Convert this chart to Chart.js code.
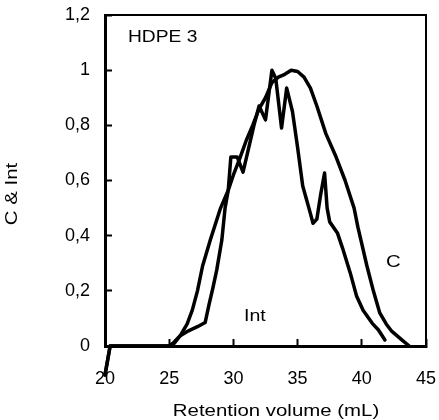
<!DOCTYPE html>
<html>
<head>
<meta charset="utf-8">
<script src="https://cdn.jsdelivr.net/npm/chart.js@4.4.1/dist/chart.umd.min.js"></script>
<style>
  html, body { margin: 0; padding: 0; background: #fff; }
</style>
</head>
<body>
<canvas id="chart" width="439" height="420"></canvas>
<script>
// DATA
const cX = [20, 20.4, 25, 25.4, 25.9, 26.4, 26.8, 27.2, 27.6, 28.2, 29.0, 29.6, 30.0, 30.5, 31.0, 31.5, 32.0, 32.5, 33.0, 33.5, 34.0, 34.5, 35.0, 35.5, 36.0, 36.5, 37.2, 38.0, 38.7, 39.4, 39.7, 40.0, 40.4, 40.9, 41.4, 41.9, 42.3, 42.8, 43.3, 43.7];
const cY = [-0.105, 0, 0, 0.01, 0.04, 0.08, 0.13, 0.2, 0.29, 0.384, 0.5, 0.565, 0.62, 0.68, 0.745, 0.8, 0.86, 0.9, 0.955, 0.975, 0.985, 1.0, 0.995, 0.975, 0.935, 0.87, 0.77, 0.685, 0.6, 0.5, 0.43, 0.37, 0.29, 0.2, 0.12, 0.08, 0.055, 0.035, 0.015, 0];

const intX = [20, 20.4, 25, 25.3, 25.8, 26.5, 27.2, 27.8, 28.1, 28.4, 28.7, 29.1, 29.35, 29.6, 29.8, 30.3, 30.75, 31.1, 31.6, 32.0, 32.3, 32.5, 33.0, 33.3, 33.75, 34.15, 34.6, 35.0, 35.4, 35.7, 36.0, 36.2, 36.5, 36.8, 37.1, 37.3, 37.5, 38.1, 38.5, 39.1, 39.6, 40.1, 40.8, 41.3, 41.8];
const intY = [-0.105, 0, 0, 0.01, 0.035, 0.055, 0.07, 0.085, 0.15, 0.21, 0.275, 0.384, 0.5, 0.565, 0.685, 0.685, 0.63, 0.7, 0.8, 0.87, 0.84, 0.82, 1.0, 0.97, 0.79, 0.935, 0.85, 0.72, 0.58, 0.53, 0.48, 0.445, 0.46, 0.55, 0.627, 0.5, 0.45, 0.41, 0.355, 0.265, 0.18, 0.13, 0.083, 0.058, 0.022];

const xTickLabels = ['20', '25', '30', '35', '40', '45'];
const yTickLabels = ['0', '0,2', '0,4', '0,6', '0,8', '1', '1,2'];

const FONT = "'Liberation Sans', Arial, sans-serif";

function toPoints(xs, ys) {
    return xs.map((x, i) => ({ x: x, y: ys[i] }));
}

// testo allargato in orizzontale
function drawText(ctx, text, x, y, size, sx, align, rot) {
    ctx.save();
    ctx.translate(x, y);
    if (rot) ctx.rotate(rot);
    ctx.scale(sx, 1);
    ctx.font = size + 'px ' + FONT;
    ctx.fillStyle = '#000';
    ctx.textAlign = align;
    ctx.textBaseline = 'alphabetic';
    ctx.fillText(text, 0, 0);
    ctx.restore();
}

// ETICHETTE
const extras = {
    id: 'extras',
    afterDraw(chart) {
        const ctx = chart.ctx;
        drawText(ctx, 'HDPE 3', 128, 42, 16, 1.2, 'left');
        drawText(ctx, 'C', 386, 267, 17, 1.2, 'left');
        drawText(ctx, 'Int', 244, 321, 17, 1.15, 'left');
        drawText(ctx, 'Retention volume (mL)', 276, 416, 17, 1.2, 'center');
        drawText(ctx, 'C & Int', 17, 194, 17, 1.2, 'center', -Math.PI / 2);
    }
};

// asse senza etichette: solo il bordo del riquadro
function frameAxis(position, axis, min, max) {
    return {
        type: 'linear',
        position: position,
        axis: axis,
        min: min,
        max: max,
        afterFit(s) {
            if (axis === 'x') s.height = 0; else s.width = 0;
            s.paddingLeft = 0; s.paddingRight = 0;
            s.paddingTop = 0; s.paddingBottom = 0;
        },
        grid: { display: false, drawTicks: false },
        border: { display: true, color: '#000', width: 2 },
        ticks: { display: false }
    };
}

const ctx = document.getElementById('chart').getContext('2d');

const chart = new Chart(ctx, {
    type: 'line',
    data: {
        datasets: [{
            label: 'C',
            data: toPoints(cX, cY),
            xAxisID: 'x',
            yAxisID: 'y',
            borderColor: '#000',
            borderWidth: 3.5,
            pointRadius: 0,
            tension: 0,
            clip: false,
            borderJoinStyle: 'round',
            borderCapStyle: 'round'
        }, {
            label: 'Int',
            data: toPoints(intX, intY),
            xAxisID: 'x',
            yAxisID: 'y',
            borderColor: '#000',
            borderWidth: 3.5,
            pointRadius: 0,
            tension: 0,
            clip: false,
            borderJoinStyle: 'round',
            borderCapStyle: 'round'
        }]
    },
    options: {
        responsive: false,
        animation: false,
        layout: { padding: { left: 0, top: 15, right: 13, bottom: 0 } },
        plugins: {
            legend: { display: false },
            tooltip: { enabled: false }
        },
        scales: {
            x: {
                type: 'linear',
                position: 'bottom',
                min: 20,
                max: 45,
                afterFit(s) {
                    s.height = 74;
                    s.paddingLeft = 0;
                    s.paddingRight = 0;
                },
                grid: {
                    display: true,
                    drawOnChartArea: false,
                    drawTicks: true,
                    tickLength: -7,
                    tickWidth: 2,
                    tickColor: '#000'
                },
                border: { display: true, color: '#000', width: 3 },
                ticks: {
                    stepSize: 5,
                    padding: 29,
                    maxRotation: 0,
                    color: '#000',
                    font: { family: FONT, size: 18 },
                    callback: (v, i) => xTickLabels[i]
                }
            },
            y: {
                position: 'left',
                min: 0,
                max: 1.2,
                afterFit(s) {
                    s.width = 105;
                    s.paddingTop = 0;
                    s.paddingBottom = 0;
                },
                grid: {
                    display: true,
                    drawOnChartArea: false,
                    drawTicks: true,
                    tickLength: -7,
                    tickWidth: 2,
                    tickColor: '#000'
                },
                border: { display: true, color: '#000', width: 3 },
                ticks: {
                    stepSize: 0.2,
                    padding: 22,
                    color: '#000',
                    font: { family: FONT, size: 18 },
                    callback: (v, i) => yTickLabels[i]
                }
            },
            xTop: frameAxis('top', 'x', 20, 45),
            yRight: frameAxis('right', 'y', 0, 1.2)
        }
    },
    plugins: [extras]
});
</script>
</body>
</html>
